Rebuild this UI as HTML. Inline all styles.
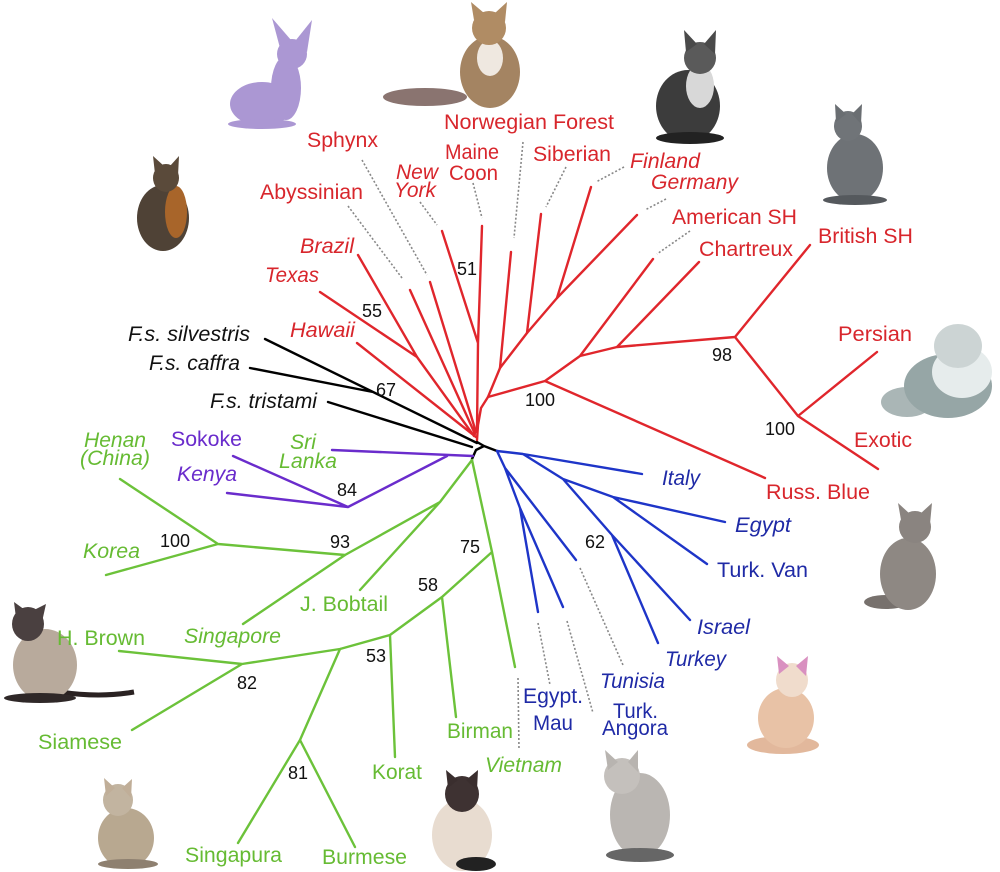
<!DOCTYPE html>
<html><head><meta charset="utf-8"><style>
html,body{margin:0;padding:0;background:#fff;}
svg{display:block;}
text{font-family:"Liberation Sans",Arial,sans-serif;font-size:21px;}
.r{fill:#d8262c}.b{fill:#1f2aa6}.g{fill:#66bb33}.p{fill:#6a2ccc}.k{fill:#111}
.i{font-style:italic}
.n{font-size:18px;fill:#111}
.lr{stroke:#e0262c;stroke-width:2.4;fill:none;stroke-linejoin:round;stroke-linecap:round}
.lb{stroke:#1e35c8;stroke-width:2.4;fill:none;stroke-linejoin:round;stroke-linecap:round}
.lg{stroke:#6cc23a;stroke-width:2.4;fill:none;stroke-linejoin:round;stroke-linecap:round}
.lp{stroke:#6a2ccc;stroke-width:2.4;fill:none;stroke-linejoin:round;stroke-linecap:round}
.lk{stroke:#000;stroke-width:2.4;fill:none;stroke-linejoin:round;stroke-linecap:round}
.d{stroke:#888;stroke-width:1.6;stroke-dasharray:2 2;fill:none}
</style></head><body>
<svg width="1000" height="872" viewBox="0 0 1000 872" xmlns="http://www.w3.org/2000/svg">
<rect width="1000" height="872" fill="#fff"/>

<!-- cats (rough) -->
<!-- Sphynx -->
<g fill="#ab97d3">
<ellipse cx="262" cy="104" rx="32" ry="22"/>
<ellipse cx="286" cy="88" rx="15" ry="32"/>
<ellipse cx="292" cy="54" rx="15" ry="15"/>
<path d="M280 48 L272 18 L291 40 Z"/><path d="M296 40 L312 20 L307 52 Z"/>
<ellipse cx="262" cy="124" rx="34" ry="5"/>
</g>
<!-- Maine Coon -->
<ellipse cx="425" cy="97" rx="42" ry="9" fill="#8a7470"/>
<ellipse cx="490" cy="72" rx="30" ry="36" fill="#a48462"/>
<ellipse cx="490" cy="58" rx="13" ry="18" fill="#efe8e0"/>
<ellipse cx="489" cy="28" rx="17" ry="17" fill="#b08c64"/>
<path d="M474 20 L471 2 L484 13 Z M495 13 L507 2 L505 22 Z" fill="#b08c64"/>
<!-- Norwegian Forest -->
<ellipse cx="688" cy="106" rx="32" ry="36" fill="#3c3c3c"/>
<ellipse cx="700" cy="86" rx="14" ry="22" fill="#d8d8d8"/>
<ellipse cx="700" cy="58" rx="16" ry="16" fill="#5a5a5a"/>
<path d="M686 52 L684 30 L697 44 Z M704 44 L716 30 L715 54 Z" fill="#4a4a4a"/>
<ellipse cx="690" cy="138" rx="34" ry="6" fill="#222"/>
<!-- Chartreux -->
<ellipse cx="855" cy="168" rx="28" ry="34" fill="#6e7276"/>
<ellipse cx="848" cy="126" rx="14" ry="15" fill="#707478"/>
<path d="M836 122 L835 104 L846 114 Z M852 114 L862 104 L861 124 Z" fill="#6a6e72"/>
<ellipse cx="855" cy="200" rx="32" ry="5" fill="#55595d"/>
<!-- Abyssinian -->
<ellipse cx="163" cy="218" rx="26" ry="33" fill="#4f4236"/>
<ellipse cx="176" cy="212" rx="11" ry="26" fill="#a8652a"/>
<ellipse cx="166" cy="178" rx="13" ry="14" fill="#5a4a3a"/>
<path d="M155 174 L153 156 L164 166 Z M170 166 L179 156 L178 176 Z" fill="#5a4a3a"/>
<!-- Persian -->
<ellipse cx="907" cy="402" rx="26" ry="15" fill="#aab6b6"/>
<ellipse cx="948" cy="386" rx="44" ry="32" fill="#96a6a6"/>
<ellipse cx="962" cy="372" rx="30" ry="26" fill="#e6ecec"/>
<ellipse cx="958" cy="346" rx="24" ry="22" fill="#ccd4d4"/>
<!-- grey cat -->
<ellipse cx="886" cy="602" rx="22" ry="7" fill="#77716d"/>
<ellipse cx="908" cy="574" rx="28" ry="36" fill="#8e8883"/>
<ellipse cx="915" cy="527" rx="16" ry="16" fill="#8a8480"/>
<path d="M901 520 L898 503 L910 514 Z M920 514 L932 503 L930 524 Z" fill="#8a8480"/>
<!-- cream cat -->
<ellipse cx="783" cy="745" rx="36" ry="9" fill="#e2b89c"/>
<ellipse cx="786" cy="718" rx="28" ry="30" fill="#e8c2a6"/>
<ellipse cx="792" cy="680" rx="16" ry="17" fill="#f0dccc"/>
<path d="M779 674 L777 656 L789 666 Z M796 666 L808 656 L806 676 Z" fill="#d990c0"/>
<!-- Siamese -->
<path d="M60 692 Q100 698 134 692" stroke="#2a2222" stroke-width="5" fill="none"/>
<ellipse cx="45" cy="665" rx="32" ry="36" fill="#b8aa9c"/>
<ellipse cx="28" cy="624" rx="16" ry="17" fill="#4a4040"/>
<path d="M16 618 L14 602 L25 610 Z M34 610 L46 604 L42 622 Z" fill="#4a4040"/>
<ellipse cx="40" cy="698" rx="36" ry="5" fill="#2f2828"/>
<!-- Singapura -->
<ellipse cx="126" cy="838" rx="28" ry="30" fill="#b8a890"/>
<ellipse cx="118" cy="800" rx="15" ry="16" fill="#c2b4a0"/>
<path d="M106 796 L104 778 L115 788 Z M122 788 L132 779 L131 798 Z" fill="#c0ae98"/>
<ellipse cx="128" cy="864" rx="30" ry="5" fill="#8e8070"/>
<!-- Birman -->
<ellipse cx="462" cy="835" rx="30" ry="36" fill="#e8dcd0"/>
<ellipse cx="462" cy="794" rx="17" ry="18" fill="#3e3232"/>
<path d="M448 788 L446 770 L458 780 Z M466 780 L478 770 L477 790 Z" fill="#3a2e2e"/>
<ellipse cx="476" cy="864" rx="20" ry="7" fill="#222"/>
<!-- Egyptian Mau -->
<ellipse cx="640" cy="815" rx="30" ry="42" fill="#bab6b2"/>
<ellipse cx="622" cy="776" rx="18" ry="18" fill="#c4c0bc"/>
<path d="M608 770 L605 750 L618 762 Z M628 762 L638 750 L638 772 Z" fill="#b8b4b0"/>
<ellipse cx="640" cy="855" rx="34" ry="7" fill="#666"/>

<!-- dotted connectors -->
<path class="d" d="M362 160 L427 275 M348 206 L402 278 M420 202 L437 225 M473 183 L482 218 M523 142 L514 238 M566 167 L546 207 M624 167 L596 182 M666 199 L645 210 M690 231 L657 254 M518 678 L519 750 M538 623 L550 685 M567 621 L593 713 M580 568 L623 665"/>

<!-- red clade -->
<path class="lr" d="M477 440 L478 425 L481 408 L488 397 L500 368 L527 333 L557 298 L637 215"/>
<path class="lr" d="M500 368 L511 252 M527 333 L541 214 M557 298 L591 187"/>
<path class="lr" d="M488 397 L545 381 L765 478 M545 381 L580 356 L653 259 M580 356 L617 347 L735 337 M617 347 L699 262 M735 337 L810 245 M735 337 L798 416 L877 352 M798 416 L878 469"/>
<path class="lr" d="M482 226 L478 343 L477 430 M442 231 L478 343"/>
<path class="lr" d="M430 282 L476 432 M410 290 L475 434 M357 343 L476 437 M358 255 L417 357 L474 436 M320 292 L417 357"/>

<!-- black -->
<path class="lk" d="M265 339 L477 443 M250 368 L373 392 M328 402 L472 447"/>
<path class="lk" d="M477 442 L484 446 L497 451 M484 446 L476 450 L472 459"/>

<!-- purple -->
<path class="lp" d="M332 450 L473 456 M447 456 L348 507 L233 456 M348 507 L227 493"/>

<!-- green -->
<path class="lg" d="M472 460 L440 502 L360 590 M440 502 L345 555 L243 624 M345 555 L218 544 L120 479 M218 544 L106 575"/>
<path class="lg" d="M472 460 L492 552 L515 667 M492 552 L442 597 L456 717 M442 597 L390 635 L395 757 M390 635 L340 649 L300 740 L238 843 M300 740 L355 847 M340 649 L242 664 L119 651 M242 664 L132 730"/>

<!-- blue -->
<path class="lb" d="M497 451 L523 454 L642 474 M523 454 L563 479 L613 497 L725 522 M613 497 L707 564 M563 479 L612 535 L690 620 M612 535 L658 643"/>
<path class="lb" d="M497 451 L505 468 L576 560 M505 468 L520 508 L538 612 M520 508 L563 607"/>

<!-- red labels -->
<text class="r" x="307" y="147" textLength="71" lengthAdjust="spacingAndGlyphs">Sphynx</text>
<text class="r" x="444" y="129" textLength="170" lengthAdjust="spacingAndGlyphs">Norwegian Forest</text>
<text class="r" x="445" y="159" textLength="54" lengthAdjust="spacingAndGlyphs">Maine</text>
<text class="r" x="449" y="180" textLength="49" lengthAdjust="spacingAndGlyphs">Coon</text>
<text class="r i" x="396" y="179" textLength="42" lengthAdjust="spacingAndGlyphs">New</text>
<text class="r i" x="394" y="197" textLength="42" lengthAdjust="spacingAndGlyphs">York</text>
<text class="r" x="533" y="161" textLength="78" lengthAdjust="spacingAndGlyphs">Siberian</text>
<text class="r i" x="630" y="168" textLength="70" lengthAdjust="spacingAndGlyphs">Finland</text>
<text class="r i" x="651" y="189" textLength="87" lengthAdjust="spacingAndGlyphs">Germany</text>
<text class="r" x="260" y="199" textLength="103" lengthAdjust="spacingAndGlyphs">Abyssinian</text>
<text class="r" x="672" y="224" textLength="125" lengthAdjust="spacingAndGlyphs">American SH</text>
<text class="r" x="699" y="256" textLength="94" lengthAdjust="spacingAndGlyphs">Chartreux</text>
<text class="r" x="818" y="243" textLength="95" lengthAdjust="spacingAndGlyphs">British SH</text>
<text class="r i" x="300" y="253" textLength="54" lengthAdjust="spacingAndGlyphs">Brazil</text>
<text class="r i" x="265" y="282" textLength="54" lengthAdjust="spacingAndGlyphs">Texas</text>
<text class="r i" x="290" y="337" textLength="65" lengthAdjust="spacingAndGlyphs">Hawaii</text>
<text class="r" x="838" y="341" textLength="74" lengthAdjust="spacingAndGlyphs">Persian</text>
<text class="r" x="854" y="447" textLength="58" lengthAdjust="spacingAndGlyphs">Exotic</text>
<text class="r" x="766" y="499" textLength="104" lengthAdjust="spacingAndGlyphs">Russ. Blue</text>

<!-- black labels -->
<text class="k i" x="128" y="341" textLength="122" lengthAdjust="spacingAndGlyphs">F.s. silvestris</text>
<text class="k i" x="149" y="370" textLength="91" lengthAdjust="spacingAndGlyphs">F.s. caffra</text>
<text class="k i" x="210" y="408" textLength="107" lengthAdjust="spacingAndGlyphs">F.s. tristami</text>

<!-- purple labels -->
<text class="p" x="171" y="446" textLength="71" lengthAdjust="spacingAndGlyphs">Sokoke</text>
<text class="p i" x="177" y="481" textLength="60" lengthAdjust="spacingAndGlyphs">Kenya</text>

<!-- green labels -->
<text class="g i" x="290" y="449" textLength="26" lengthAdjust="spacingAndGlyphs">Sri</text>
<text class="g i" x="279" y="468" textLength="58" lengthAdjust="spacingAndGlyphs">Lanka</text>
<text class="g i" x="84" y="447" textLength="62" lengthAdjust="spacingAndGlyphs">Henan</text>
<text class="g i" x="80" y="465" textLength="70" lengthAdjust="spacingAndGlyphs">(China)</text>
<text class="g i" x="83" y="558" textLength="57" lengthAdjust="spacingAndGlyphs">Korea</text>
<text class="g" x="300" y="611" textLength="88" lengthAdjust="spacingAndGlyphs">J. Bobtail</text>
<text class="g i" x="184" y="643" textLength="97" lengthAdjust="spacingAndGlyphs">Singapore</text>
<text class="g" x="57" y="645" textLength="88" lengthAdjust="spacingAndGlyphs">H. Brown</text>
<text class="g" x="38" y="749" textLength="84" lengthAdjust="spacingAndGlyphs">Siamese</text>
<text class="g" x="372" y="779" textLength="50" lengthAdjust="spacingAndGlyphs">Korat</text>
<text class="g" x="185" y="862" textLength="97" lengthAdjust="spacingAndGlyphs">Singapura</text>
<text class="g" x="322" y="864" textLength="85" lengthAdjust="spacingAndGlyphs">Burmese</text>
<text class="g" x="447" y="738" textLength="66" lengthAdjust="spacingAndGlyphs">Birman</text>
<text class="g i" x="485" y="772" textLength="77" lengthAdjust="spacingAndGlyphs">Vietnam</text>

<!-- blue labels -->
<text class="b i" x="662" y="485" textLength="38" lengthAdjust="spacingAndGlyphs">Italy</text>
<text class="b i" x="735" y="532" textLength="56" lengthAdjust="spacingAndGlyphs">Egypt</text>
<text class="b" x="717" y="577" textLength="91" lengthAdjust="spacingAndGlyphs">Turk. Van</text>
<text class="b i" x="697" y="634" textLength="53" lengthAdjust="spacingAndGlyphs">Israel</text>
<text class="b i" x="665" y="666" textLength="61" lengthAdjust="spacingAndGlyphs">Turkey</text>
<text class="b i" x="600" y="688" textLength="65" lengthAdjust="spacingAndGlyphs">Tunisia</text>
<text class="b" x="613" y="718" textLength="45" lengthAdjust="spacingAndGlyphs">Turk.</text>
<text class="b" x="602" y="735" textLength="66" lengthAdjust="spacingAndGlyphs">Angora</text>
<text class="b" x="523" y="703" textLength="60" lengthAdjust="spacingAndGlyphs">Egypt.</text>
<text class="b" x="533" y="730" textLength="40" lengthAdjust="spacingAndGlyphs">Mau</text>

<!-- bootstrap numbers -->
<text class="n" x="457" y="275">51</text>
<text class="n" x="362" y="317">55</text>
<text class="n" x="376" y="396">67</text>
<text class="n" x="525" y="406">100</text>
<text class="n" x="712" y="361">98</text>
<text class="n" x="765" y="435">100</text>
<text class="n" x="337" y="496">84</text>
<text class="n" x="160" y="547">100</text>
<text class="n" x="330" y="548">93</text>
<text class="n" x="460" y="553">75</text>
<text class="n" x="418" y="591">58</text>
<text class="n" x="585" y="548">62</text>
<text class="n" x="366" y="662">53</text>
<text class="n" x="237" y="689">82</text>
<text class="n" x="288" y="779">81</text>
</svg>
</body></html>
